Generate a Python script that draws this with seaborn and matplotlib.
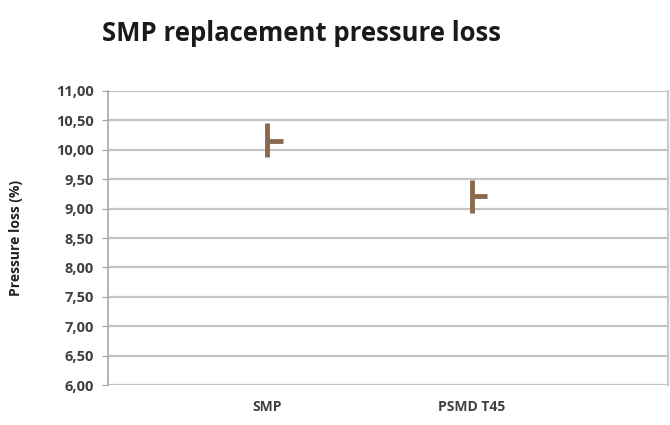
import matplotlib.pyplot as plt
import pandas as pd
import seaborn as sns

# values (high / low / close style chart)
categories = ["SMP", "PSMD T45"]
high_vals = [10.45, 9.48]
low_vals = [9.88, 8.92]
close_vals = [10.15, 9.22]
y_ticks = [6.0, 6.5, 7.0, 7.5, 8.0, 8.5, 9.0, 9.5, 10.0, 10.5, 11.0]

brown = "#8a6a4f"
grid_col = "#c4c4c4"

sns.set_style("white")
plt.rcParams['font.family'] = ['Open Sans', 'DejaVu Sans']

# long table for the high-low lines
rows = []
for i, cat in enumerate(categories):
    rows.append({"cat": cat, "pos": i, "value": low_vals[i]})
    rows.append({"cat": cat, "pos": i, "value": high_vals[i]})
df = pd.DataFrame(rows)

fig = plt.figure(figsize=(6.7, 4.25), dpi=100)
ax = fig.add_axes([0.161, 0.094, 0.836, 0.692])

ax.set_axisbelow(True)
for t in y_ticks:
    ax.axhline(t, color=grid_col, lw=1.6, zorder=0)

sns.lineplot(data=df, x="pos", y="value", units="cat", estimator=None,
             color=brown, lw=3.5, ax=ax, solid_capstyle="butt")
# close ticks to the right
ax.hlines(close_vals, [i for i in range(len(categories))],
          [i + 0.075 for i in range(len(categories))],
          color=brown, lw=3.5, zorder=3)

ax.set_ylim(6.0, 11.0)
ax.set_xlim(-0.78, 1.96)
ax.set_yticks(y_ticks)
ax.set_yticklabels([f"{t:.2f}".replace(".", ",") for t in y_ticks],
                   fontsize=10.5, color="#404040", fontweight="bold")
ax.set_xticks(range(len(categories)))
ax.set_xticklabels(categories, fontsize=10, color="#404040", fontweight="bold")
ax.tick_params(axis="y", length=4, color="#a0a0a0", pad=6, direction="out", left=True)
ax.tick_params(axis="x", length=0, pad=11)

ax.set_xlabel("")
ax.set_ylabel("Pressure loss (%)", fontsize=10, fontweight="bold", color="#202020", labelpad=24)

for side in ["top", "bottom"]:
    ax.spines[side].set_visible(False)
ax.spines["left"].set_color("#a8a8a8")
ax.spines["left"].set_linewidth(1.2)
ax.spines["right"].set_color("#c8c8c8")
ax.spines["right"].set_linewidth(1.5)

fig.text(0.152, 0.922, "SMP replacement pressure loss", fontsize=18.5,
         fontweight="bold", color="#1a1a1a", ha="left", va="center")

fig.savefig("out.png", dpi=100)
